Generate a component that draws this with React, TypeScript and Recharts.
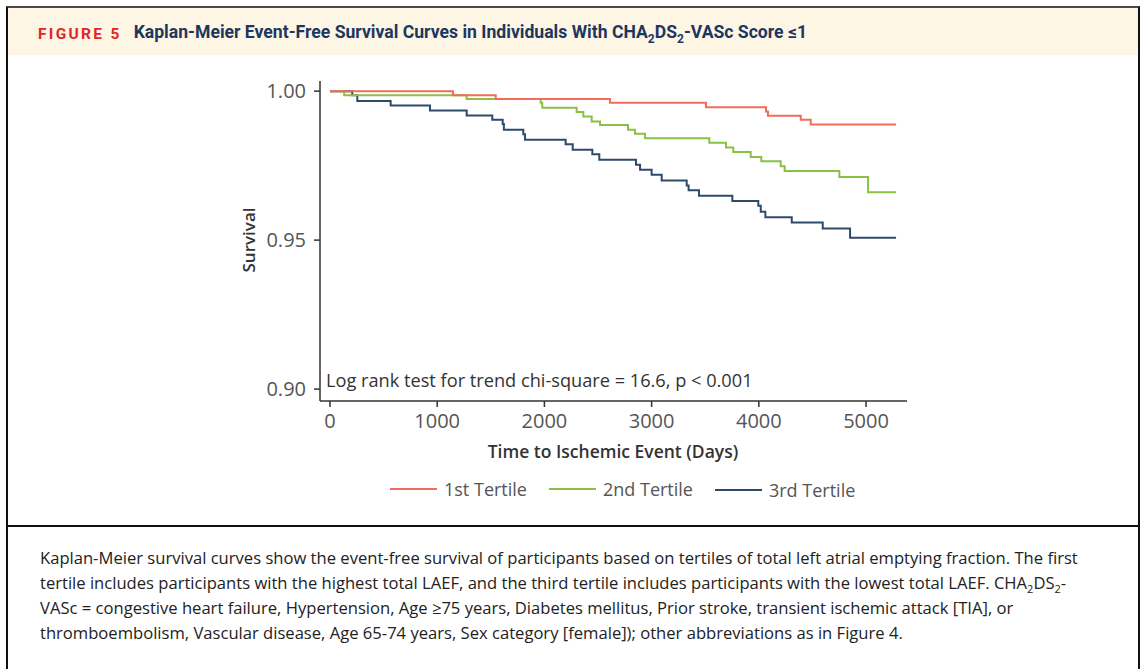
import { LineChart, Line, XAxis, YAxis } from 'recharts';

// survival steps: at day t the curve drops to s
const tertile1 = [
  { t: 0, s: 1 },
  { t: 1147, s: 0.9986 },
  { t: 1546, s: 0.9974 },
  { t: 2612, s: 0.9961 },
  { t: 3507, s: 0.9946 },
  { t: 4067, s: 0.9932 },
  { t: 4085, s: 0.9917 },
  { t: 4391, s: 0.9904 },
  { t: 4484, s: 0.9888 },
  { t: 5280, s: 0.9888 },
];

const tertile2 = [
  { t: 0, s: 1 },
  { t: 133, s: 0.9986 },
  { t: 1275, s: 0.9974 },
  { t: 1965, s: 0.9961 },
  { t: 1980, s: 0.9944 },
  { t: 2301, s: 0.993 },
  { t: 2363, s: 0.9915 },
  { t: 2441, s: 0.9898 },
  { t: 2519, s: 0.9886 },
  { t: 2780, s: 0.987 },
  { t: 2845, s: 0.9857 },
  { t: 2938, s: 0.9842 },
  { t: 3538, s: 0.9827 },
  { t: 3694, s: 0.9811 },
  { t: 3762, s: 0.9796 },
  { t: 3924, s: 0.9779 },
  { t: 4023, s: 0.9765 },
  { t: 4204, s: 0.9748 },
  { t: 4241, s: 0.9732 },
  { t: 4751, s: 0.9712 },
  { t: 5019, s: 0.9661 },
  { t: 5280, s: 0.9661 },
];

const tertile3 = [
  { t: 0, s: 1 },
  { t: 208, s: 0.9986 },
  { t: 255, s: 0.9967 },
  { t: 566, s: 0.9952 },
  { t: 933, s: 0.9935 },
  { t: 1275, s: 0.9918 },
  { t: 1514, s: 0.9904 },
  { t: 1611, s: 0.989 },
  { t: 1622, s: 0.987 },
  { t: 1803, s: 0.9855 },
  { t: 1819, s: 0.9837 },
  { t: 2198, s: 0.9822 },
  { t: 2264, s: 0.9803 },
  { t: 2447, s: 0.9788 },
  { t: 2512, s: 0.977 },
  { t: 2854, s: 0.9753 },
  { t: 2892, s: 0.9736 },
  { t: 3000, s: 0.9719 },
  { t: 3094, s: 0.97 },
  { t: 3327, s: 0.9683 },
  { t: 3345, s: 0.9667 },
  { t: 3442, s: 0.9649 },
  { t: 3753, s: 0.9631 },
  { t: 3995, s: 0.9615 },
  { t: 4018, s: 0.9595 },
  { t: 4061, s: 0.9577 },
  { t: 4307, s: 0.9559 },
  { t: 4596, s: 0.9539 },
  { t: 4851, s: 0.9508 },
  { t: 5280, s: 0.9508 },
];

const seriesNames = ['1st Tertile', '2nd Tertile', '3rd Tertile'];
const seriesColors = ['#f26b5b', '#8cbf45', '#2e4a6b'];
const xTicks = [0, 1000, 2000, 3000, 4000, 5000];
const yTicks = [0.9, 0.95, 1.0];

const chartFont = '"Open Sans", sans-serif';
const tickStyle = { fontSize: 20, fill: '#555', fontFamily: chartFont };

const App = () => {
  const allSeries = [tertile1, tertile2, tertile3];

  return (
    <div style={{ position: 'absolute', left: 0, top: 0, width: 1142, height: 669, background: '#fff', overflow: 'hidden' }}>
      {/* figure frame */}
      <div
        style={{
          position: 'absolute',
          left: 6,
          top: 6,
          width: 1130,
          height: 670,
          borderTop: '2px solid #4a4a4a',
          borderLeft: '2px solid #111',
          borderRight: '2px solid #111',
        }}
      />
      <div
        style={{
          position: 'absolute',
          left: 8,
          top: 8,
          width: 1130,
          height: 47,
          background: '#fdf6e4',
          fontFamily: '"Liberation Sans Narrow", "Roboto", sans-serif',
          fontWeight: 700,
          display: 'flex',
          alignItems: 'center',
          paddingTop: 5,
          boxSizing: 'border-box',
        }}
      >
        <span style={{ marginLeft: 30, color: '#e4232b', fontSize: 15.5, letterSpacing: 2.3 }}>FIGURE 5</span>
        <span style={{ marginLeft: 12, color: '#1d3660', fontSize: 17.6 }}>
          Kaplan-Meier Event-Free Survival Curves in Individuals With CHA<sub style={{ fontSize: 12 }}>2</sub>DS
          <sub style={{ fontSize: 12 }}>2</sub>-VASc Score ≤1
        </span>
      </div>
      <div style={{ position: 'absolute', left: 8, top: 525, width: 1130, height: 2, background: '#111' }} />

      <LineChart
        width={1142}
        height={530}
        margin={{ top: 81, right: 235, bottom: 89, left: 260 }}
        style={{ position: 'absolute', left: 0, top: 0 }}
      >
        <XAxis
          type="number"
          dataKey="t"
          domain={[-93, 5382]}
          ticks={xTicks}
          allowDataOverflow
          height={40}
          stroke="#333"
          strokeWidth={1.5}
          tickSize={6}
          tickMargin={7}
          tick={tickStyle}
        />
        <YAxis
          type="number"
          dataKey="s"
          domain={[0.896, 1.0034]}
          ticks={yTicks}
          allowDataOverflow
          width={60}
          stroke="#333"
          strokeWidth={1.5}
          tickSize={6}
          tickMargin={8}
          tick={tickStyle}
          tickFormatter={(v: number) => v.toFixed(2)}
        />
        {[2, 1, 0].map((i) => (
          <Line
            key={seriesNames[i]}
            data={allSeries[i]}
            dataKey="s"
            name={seriesNames[i]}
            type="stepAfter"
            stroke={seriesColors[i]}
            strokeWidth={2}
            dot={false}
            activeDot={false}
            isAnimationActive={false}
          />
        ))}
      </LineChart>

      {/* axis titles and annotation */}
      <div
        style={{
          position: 'absolute',
          left: 248,
          top: 240,
          transform: 'translate(-50%, -50%) rotate(-90deg)',
          fontFamily: chartFont,
          fontSize: 17,
          fontWeight: 600,
          color: '#333',
          whiteSpace: 'nowrap',
        }}
      >
        Survival
      </div>
      <div
        style={{
          position: 'absolute',
          left: 613,
          top: 451,
          transform: 'translate(-50%, -50%)',
          fontFamily: chartFont,
          fontSize: 17.5,
          fontWeight: 600,
          color: '#333',
          whiteSpace: 'nowrap',
        }}
      >
        Time to Ischemic Event (Days)
      </div>
      <div
        style={{
          position: 'absolute',
          left: 326,
          top: 368,
          fontFamily: chartFont,
          fontSize: 18.2,
          color: '#333',
          whiteSpace: 'nowrap',
        }}
      >
        Log rank test for trend chi-square = 16.6, p &lt; 0.001
      </div>

      {/* legend */}
      <div
        style={{
          position: 'absolute',
          left: 390,
          top: 476,
          display: 'flex',
          alignItems: 'center',
          fontFamily: chartFont,
          fontSize: 18,
          color: '#555',
          whiteSpace: 'nowrap',
        }}
      >
        {seriesNames.map((n, i) => (
          <div key={n} style={{ display: 'flex', alignItems: 'center', marginRight: 22, marginTop: i === 2 ? 2 : 0 }}>
            <div style={{ width: 47, height: 2, background: seriesColors[i], marginRight: 7 }} />
            <span>{n}</span>
          </div>
        ))}
      </div>

      {/* caption */}
      <div
        style={{
          position: 'absolute',
          left: 40,
          top: 545,
          fontFamily: chartFont,
          fontSize: 16.6,
          lineHeight: '25px',
          color: '#222',
          whiteSpace: 'nowrap',
        }}
      >
        Kaplan-Meier survival curves show the event-free survival of participants based on tertiles of total left atrial emptying fraction. The first
        <br />
        tertile includes participants with the highest total LAEF, and the third tertile includes participants with the lowest total LAEF. CHA
        <sub style={{ fontSize: 11, lineHeight: 0 }}>2</sub>DS<sub style={{ fontSize: 11, lineHeight: 0 }}>2</sub>-
        <br />
        VASc = congestive heart failure, Hypertension, Age ≥75 years, Diabetes mellitus, Prior stroke, transient ischemic attack [TIA], or
        <br />
        thromboembolism, Vascular disease, Age 65-74 years, Sex category [female]); other abbreviations as in Figure 4.
      </div>
    </div>
  );
};

export default App;
